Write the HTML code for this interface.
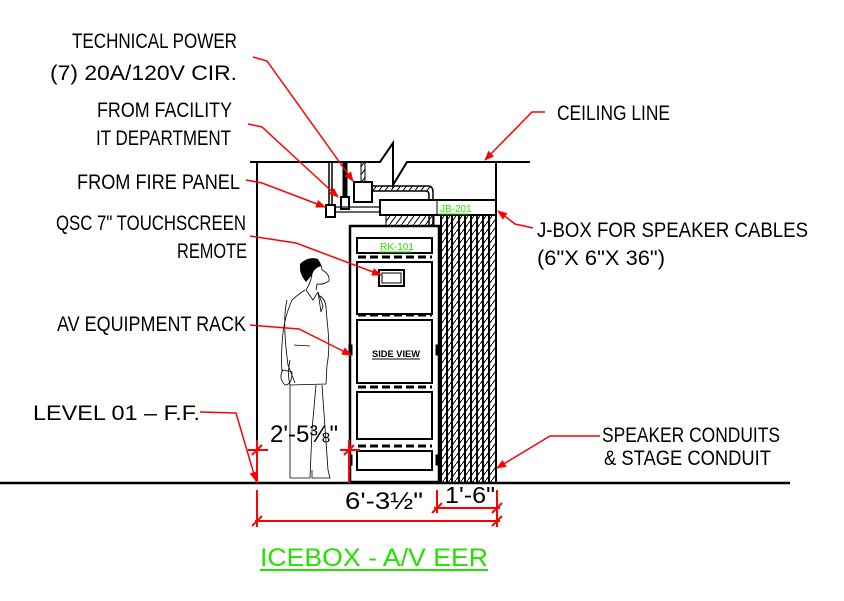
<!DOCTYPE html>
<html><head><meta charset="utf-8"><style>
html,body{margin:0;padding:0;background:#fff;}
svg{display:block;}
text{font-family:"Liberation Sans",sans-serif;}
</style></head><body>
<svg width="844" height="601" viewBox="0 0 844 601" xmlns="http://www.w3.org/2000/svg">
<defs>
<marker id="ar" markerWidth="10" markerHeight="8" refX="9" refY="4" orient="auto" markerUnits="userSpaceOnUse"><path d="M0,0 L10,4 L0,8 z" fill="red"/></marker>
<pattern id="hatch" width="6" height="8" patternUnits="userSpaceOnUse"><path d="M0,8 L6,0" stroke="#000" stroke-width="1"/></pattern>
</defs>
<g fill="none" stroke="#000">
<path d="M250,162 L380,162 L393,143 L393,185 L407,162 L530,162" stroke-width="2"/>
<line x1="257" y1="162" x2="257" y2="483" stroke-width="2"/>
<line x1="496" y1="162" x2="496" y2="200" stroke-width="2"/>
<line x1="0" y1="483" x2="790" y2="483" stroke-width="2.5"/>
<rect x="329" y="162" width="3" height="43" stroke-width="1.5"/>
<rect x="343" y="162" width="4" height="37" fill="#000"/>
<rect x="361" y="162" width="4" height="20" fill="url(#hatch)" stroke-width="1"/>
<rect x="354" y="182" width="18" height="20" stroke-width="2" fill="#fff"/>
<rect x="341" y="197" width="8" height="12" stroke-width="2" fill="#fff"/>
<rect x="326" y="205" width="9" height="12" stroke-width="2" fill="#fff"/>
<rect x="335" y="207" width="45" height="5" stroke-width="1.2"/>
<path d="M372,186 L428,186 Q433,186 433,192 L433,228 M372,191 L426,191 Q429,191 429,195 L429,228" stroke-width="1.5"/>
<rect x="372" y="186" width="58" height="5" fill="url(#hatch)" stroke="none"/>
<rect x="380" y="200" width="116" height="15" stroke-width="2" fill="#fff"/>
<line x1="437" y1="200" x2="437" y2="215" stroke-width="1"/>
<rect x="386" y="215" width="48" height="11" fill="url(#hatch)" stroke-width="1"/>
<rect x="441" y="215" width="55" height="268" fill="url(#hatch)" stroke="none"/>
<g stroke-width="2">
<line x1="441" y1="215" x2="441" y2="483"/><line x1="447" y1="215" x2="447" y2="483"/>
<line x1="452" y1="215" x2="452" y2="483"/><line x1="459" y1="215" x2="459" y2="483"/>
<line x1="465" y1="215" x2="465" y2="483"/><line x1="471" y1="215" x2="471" y2="483"/>
<line x1="477" y1="215" x2="477" y2="483"/><line x1="483" y1="215" x2="483" y2="483"/>
<line x1="489" y1="215" x2="489" y2="483"/><line x1="496" y1="215" x2="496" y2="483"/>
</g>
<rect x="350" y="226" width="89" height="256" stroke-width="2.5" fill="#fff"/>
<rect x="357" y="238" width="75" height="15" stroke-width="2"/>
<rect x="357" y="262" width="75" height="52" stroke-width="2"/>
<rect x="357" y="320" width="75" height="63" stroke-width="2"/>
<rect x="357" y="392" width="75" height="47" stroke-width="2"/>
<rect x="357" y="451" width="75" height="19" stroke-width="2"/>
<g stroke-width="3" stroke-dasharray="8,4">
<line x1="358" y1="257" x2="432" y2="257"/><line x1="358" y1="315" x2="432" y2="315"/>
<line x1="358" y1="387" x2="432" y2="387"/><line x1="358" y1="446" x2="432" y2="446"/>
</g>
<rect x="379" y="270" width="25" height="16" stroke-width="2"/>
<rect x="382" y="273" width="19" height="10" stroke-width="1"/>
<rect x="349" y="345" width="3" height="10" fill="#000"/>
<rect x="436" y="345" width="3" height="10" fill="#000"/>
<rect x="349" y="455" width="3" height="10" fill="#000"/>
<rect x="436" y="455" width="3" height="10" fill="#000"/>
<g stroke-width="0.8">
<path d="M300,264 Q308,256 318,259 L321,266 Q314,268 312,275 L306,282 Q301,276 300,270 z" fill="#000" stroke="none"/>
<path d="M318,260 Q322,266 322,270 Q330,274 329,281 Q323,285 317,284 L316,290 M312,275 Q310,284 306,290"/>
<path d="M305,290 Q296,296 292,300 Q283,320 282,345 Q281,360 282,372 M306,290 L313,300 L318,292 M320,296 Q326,300 326,308 L328,330 Q330,350 327,365 L326,384 L290,385 Q287,374 290,360 M318,292 L323,306 L321,312 Z M287,300 Q282,320 288,365 L295,383 M290,385 L290,478 L310,478 L312,430 L316,385 M312,470 L312,478 L330,478 L328,470 L322,385 M283,370 Q278,378 285,385 Q292,385 292,372 Z M294,345 L310,346"/>
</g>
</g>
<g fill="#22e000" font-size="10">
<text x="380" y="250">RK-101</text><line x1="379" y1="252" x2="412" y2="252" stroke="#22e000"/>
<text x="440" y="212">JB-201</text><line x1="439" y1="214" x2="468" y2="214" stroke="#22e000"/>
</g>
<text x="372" y="357" font-size="9" font-weight="bold" textLength="48" lengthAdjust="spacingAndGlyphs">SIDE VIEW</text>
<line x1="372" y1="359" x2="420" y2="359" stroke="#000"/>
<g font-size="21" fill="#000" lengthAdjust="spacingAndGlyphs">
<text x="72" y="48" textLength="165" lengthAdjust="spacingAndGlyphs">TECHNICAL POWER</text>
<text x="50" y="80" textLength="187" lengthAdjust="spacingAndGlyphs">(7) 20A/120V CIR.</text>
<text x="97" y="117" textLength="135" lengthAdjust="spacingAndGlyphs">FROM FACILITY</text>
<text x="96" y="145" textLength="135" lengthAdjust="spacingAndGlyphs">IT DEPARTMENT</text>
<text x="77" y="189" textLength="163" lengthAdjust="spacingAndGlyphs">FROM FIRE PANEL</text>
<text x="56" y="230" textLength="190" lengthAdjust="spacingAndGlyphs">QSC 7" TOUCHSCREEN</text>
<text x="177" y="258" textLength="70" lengthAdjust="spacingAndGlyphs">REMOTE</text>
<text x="57" y="331" textLength="189" lengthAdjust="spacingAndGlyphs">AV EQUIPMENT RACK</text>
<text x="33" y="420" textLength="167" lengthAdjust="spacingAndGlyphs">LEVEL 01 – F.F.</text>
<text x="557" y="120" textLength="113" lengthAdjust="spacingAndGlyphs">CEILING LINE</text>
<text x="537" y="237" textLength="271" lengthAdjust="spacingAndGlyphs">J-BOX FOR SPEAKER CABLES</text>
<text x="537" y="265" textLength="128" lengthAdjust="spacingAndGlyphs">(6"X 6"X 36")</text>
<text x="602" y="442" textLength="178" lengthAdjust="spacingAndGlyphs">SPEAKER CONDUITS</text>
<text x="604" y="465" textLength="167" lengthAdjust="spacingAndGlyphs">&amp; STAGE CONDUIT</text>
<text x="270" y="442" font-size="24" textLength="68" lengthAdjust="spacingAndGlyphs">2'-5⅜"</text>
<text x="345" y="509" font-size="24" textLength="78" lengthAdjust="spacingAndGlyphs">6'-3½"</text>
<text x="445" y="503" font-size="23" textLength="50" lengthAdjust="spacingAndGlyphs">1'-6"</text>
</g>
<g stroke="red" stroke-width="1.5" fill="none" marker-end="url(#ar)">
<polyline points="253,57 267,61 353,181"/>
<polyline points="248,124 262,127 338,197"/>
<polyline points="246,180 262,183 325,207"/>
<polyline points="250,236 296,243 381,275"/>
<polyline points="250,325 299,329 351,355"/>
<polyline points="200,412 236,413 256,481"/>
<polyline points="545,112 532,112 485,160"/>
<polyline points="533,228 515,224 498,211"/>
<polyline points="600,436 550,436 497,468"/>
</g>
<g stroke="red" stroke-width="2" fill="none">
<line x1="257" y1="440" x2="257" y2="483"/><line x1="248" y1="450" x2="268" y2="450"/>
<line x1="349" y1="440" x2="349" y2="483"/><line x1="340" y1="450" x2="360" y2="450"/>
<line x1="257" y1="490" x2="257" y2="527"/><line x1="497" y1="490" x2="497" y2="527"/>
<line x1="437" y1="490" x2="437" y2="513"/>
<line x1="255" y1="521" x2="500" y2="521"/>
<line x1="434" y1="508" x2="500" y2="508"/>
<path d="M252,526 L262,516 M492,526 L502,516 M432,513 L442,503 M492,513 L502,503 M252,455 L262,445 M344,455 L354,445"/>
</g>
<text x="260" y="566" font-size="25" fill="#22e000" textLength="228" lengthAdjust="spacingAndGlyphs">ICEBOX - A/V EER</text>
<line x1="260" y1="570" x2="488" y2="570" stroke="#22e000" stroke-width="2"/>
</svg>
</body></html>
